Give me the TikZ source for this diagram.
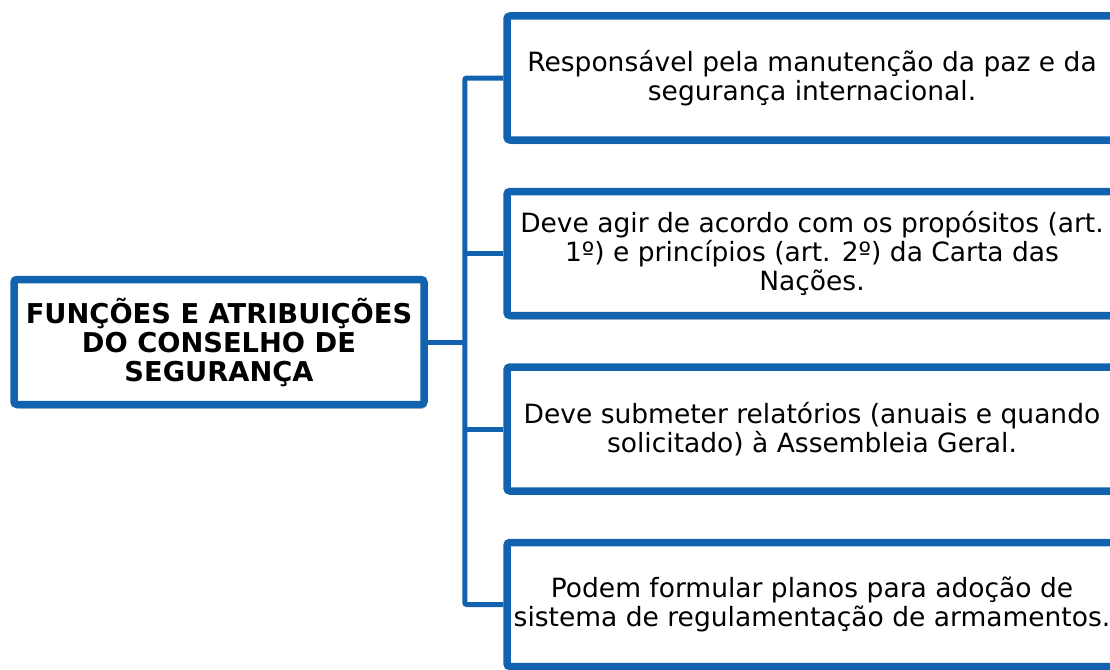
\documentclass[tikz,border=0pt]{standalone}
\usepackage{fontspec}
\setmainfont{DejaVu Sans}
\usetikzlibrary{positioning,shadows}
\definecolor{unblue}{RGB}{18,99,175}
\tikzstyle{mainbox} = [draw=unblue, fill=white, line width=7.5pt,
    rectangle, rounded corners=3pt, minimum width=410pt, minimum height=125pt,
    align=center, font=\fontsize{27.3}{29}\selectfont\bfseries,
    drop shadow={shadow xshift=2pt, shadow yshift=-4pt, fill=black, opacity=.25}]
\tikzstyle{itembox} = [draw=unblue, fill=white, line width=7.5pt,
    rectangle, rounded corners=3pt, minimum width=610pt, minimum height=124pt,
    align=center, font=\fontsize{26.5}{29}\selectfont,
    drop shadow={shadow xshift=2pt, shadow yshift=-4pt, fill=black, opacity=.25}]
\tikzstyle{link} = [draw=unblue, line width=5pt, rounded corners=2pt]
\begin{document}
\begin{tikzpicture}[x=1pt, y=-1pt]
    \useasboundingbox (0,0) rectangle (1110,669);
    \clip (0,0) rectangle (1110,669);
    \node [mainbox] (main) at (219,342) {FUNÇÕES E ATRIBUIÇÕES\\DO CONSELHO DE\\SEGURANÇA};
    \node [itembox] (f1) at (812,78) {Responsável pela manutenção da paz e da\\segurança internacional.};
    \node [itembox, below=44pt of f1] (f2) {Deve agir de acordo com os propósitos (art.\\1º) e princípios (art. 2º) da Carta das\\Nações.};
    \node [itembox, below=44pt of f2] (f3) {Deve submeter relatórios (anuais e quando\\solicitado) à Assembleia Geral.};
    \node [itembox, below=44pt of f3] (f4) {Podem formular planos para adoção de\\sistema de regulamentação de armamentos.};
    \coordinate [right=37pt of main.east] (trunk);
    \draw [link] (main.east) -- (trunk);
    \draw [link] (f1.west) -| (trunk) |- (f4.west);
    \draw [link] (f2.west) -- (f2.west -| trunk);
    \draw [link] (f3.west) -- (f3.west -| trunk);
\end{tikzpicture}
\end{document}
